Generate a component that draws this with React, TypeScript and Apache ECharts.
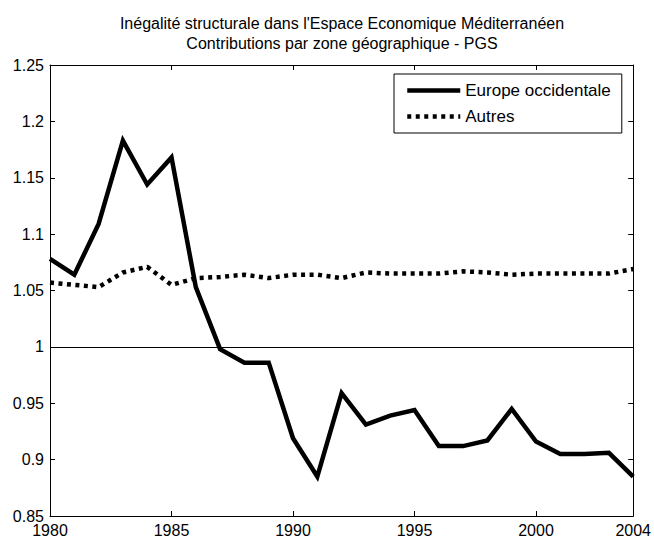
import React, { useEffect, useRef } from "react";
import * as echarts from "echarts";

const titleLines = [
  "Inégalité structurale dans l'Espace Economique Méditerranéen",
  "Contributions par zone géographique - PGS",
];
const seriesNames = ["Europe occidentale", "Autres"];
const years = [
  1980, 1981, 1982, 1983, 1984, 1985, 1986, 1987, 1988, 1989, 1990, 1991, 1992,
  1993, 1994, 1995, 1996, 1997, 1998, 1999, 2000, 2001, 2002, 2003, 2004,
];
const europe = [
  1.078, 1.064, 1.109, 1.183, 1.144, 1.168, 1.053, 0.998, 0.986, 0.986, 0.919,
  0.885, 0.959, 0.931, 0.939, 0.944, 0.912, 0.912, 0.917, 0.945, 0.916, 0.905,
  0.905, 0.906, 0.885,
];
const autres = [
  1.057, 1.055, 1.053, 1.066, 1.071, 1.055, 1.061, 1.062, 1.064, 1.061, 1.064,
  1.064, 1.061, 1.066, 1.065, 1.065, 1.065, 1.067, 1.066, 1.064, 1.065, 1.065,
  1.065, 1.065, 1.069,
];
const referenceLevel = 1;

const FONT = "'Liberation Sans', Arial, Helvetica, sans-serif";

export default function App() {
  const ref = useRef<HTMLDivElement>(null);

  useEffect(() => {
    document.body.style.margin = "0";
    if (!ref.current) return;
    const chart = echarts.init(ref.current, undefined, { renderer: "svg" });

    const axisCommon = {
      axisLine: { show: true, onZero: false, lineStyle: { color: "#000", width: 1 } },
      axisTick: { show: true, inside: true, length: 5, lineStyle: { color: "#000", width: 1 } },
      splitLine: { show: false },
    };

    const fmtY = (v: number) => String(parseFloat(v.toFixed(2)));
    const fmtX = (v: number) => String(Math.round(v));

    chart.setOption({
      animation: false,
      backgroundColor: "#fff",
      textStyle: { fontFamily: FONT },
      grid: { left: 50, top: 65, width: 586, height: 451, containLabel: false },
      graphic: [
        {
          type: "text",
          x: 342,
          y: 23,
          style: {
            text: titleLines[0],
            align: "center",
            verticalAlign: "middle",
            fontSize: 16,
            fontFamily: FONT,
            fill: "#000",
          },
        },
        {
          type: "text",
          x: 342,
          y: 43,
          style: {
            text: titleLines[1],
            align: "center",
            verticalAlign: "middle",
            fontSize: 16,
            fontFamily: FONT,
            fill: "#000",
          },
        },
      ],
      legend: {
        data: seriesNames,
        orient: "vertical",
        left: 394,
        top: 74,
        padding: [8, 11, 8, 11],
        itemWidth: 53,
        itemHeight: 16,
        itemGap: 9,
        borderColor: "#000",
        borderWidth: 1,
        borderRadius: 0,
        backgroundColor: "#fff",
        itemStyle: { opacity: 0 },
        lineStyle: { width: 4.5 },
        textStyle: { fontSize: 17, color: "#000", fontFamily: FONT },
      },
      xAxis: [
        {
          type: "value",
          min: 1980,
          max: 2004,
          interval: 5,
          position: "bottom",
          ...axisCommon,
          axisLabel: {
            show: true,
            color: "#000",
            fontSize: 16,
            margin: 6,
            fontFamily: FONT,
            formatter: fmtX,
          },
        },
        {
          type: "value",
          min: 1980,
          max: 2004,
          interval: 5,
          position: "top",
          ...axisCommon,
          axisLabel: { show: false },
        },
      ],
      yAxis: [
        {
          type: "value",
          min: 0.85,
          max: 1.25,
          interval: 0.05,
          position: "left",
          ...axisCommon,
          axisLabel: {
            show: true,
            color: "#000",
            fontSize: 16,
            margin: 6,
            fontFamily: FONT,
            formatter: fmtY,
          },
        },
        {
          type: "value",
          min: 0.85,
          max: 1.25,
          interval: 0.05,
          position: "right",
          ...axisCommon,
          axisLabel: { show: false },
        },
      ],
      series: [
        {
          name: seriesNames[0],
          type: "line",
          xAxisIndex: 0,
          yAxisIndex: 0,
          symbol: "none",
          data: years.map((y, i) => [y, europe[i]]),
          lineStyle: { color: "#000", width: 4.5, type: "solid", cap: "butt", join: "miter" },
          itemStyle: { color: "#000" },
          z: 3,
          markLine: {
            silent: true,
            symbol: "none",
            label: { show: false },
            lineStyle: { color: "#000", width: 1, type: "solid" },
            data: [{ yAxis: referenceLevel }],
          },
        },
        {
          name: seriesNames[1],
          type: "line",
          xAxisIndex: 0,
          yAxisIndex: 0,
          symbol: "none",
          data: years.map((y, i) => [y, autres[i]]),
          lineStyle: { color: "#000", width: 4.5, type: [4, 4.5], cap: "butt" },
          itemStyle: { color: "#000" },
          z: 2,
        },
      ],
    });

    return () => chart.dispose();
  }, []);

  return <div ref={ref} style={{ width: 654, height: 539 }} />;
}
